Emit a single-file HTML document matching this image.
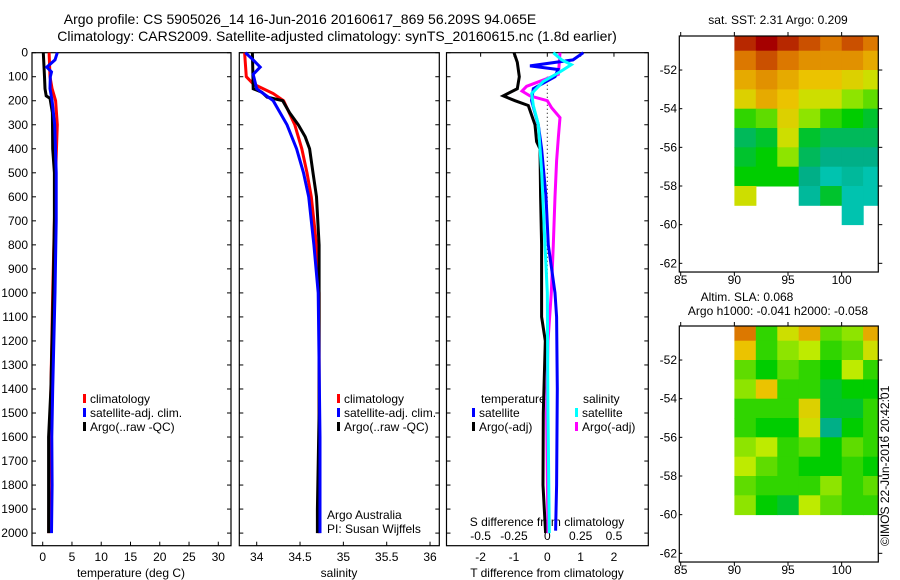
<!DOCTYPE html>
<html><head><meta charset="utf-8"><style>
html,body{margin:0;padding:0;background:#fff;}
svg{display:block;font-family:"Liberation Sans",sans-serif;}
</style></head><body>
<svg id="fig" width="900" height="580" viewBox="0 0 900 580" xmlns="http://www.w3.org/2000/svg">
<text x="300" y="24" font-size="14" text-anchor="middle">Argo profile: CS 5905026_14 16-Jun-2016 20160617_869 56.209S 94.065E</text>
<text x="337" y="41" font-size="14" text-anchor="middle">Climatology: CARS2009. Satellite-adjusted climatology: synTS_20160615.nc (1.8d earlier)</text>
<g id="p1"></g>
<g id="p2"></g>
<g id="p3"></g>
<g id="m1"></g>
<g id="m2"></g>
<text x="778" y="24" font-size="12" text-anchor="middle">sat. SST: 2.31 Argo: 0.209</text>
<text x="747" y="301" font-size="12" text-anchor="middle">Altim. SLA: 0.068</text>
<text x="778" y="315" font-size="12" text-anchor="middle">Argo h1000: -0.041 h2000: -0.058</text>
<text transform="translate(889,546) rotate(-90)" font-size="12">©IMOS 22-Jun-2016 20:42:01</text>
</svg>
<script>
// ---- data ----
var depthTicks=[0,100,200,300,400,500,600,700,800,900,1000,1100,1200,1300,1400,1500,1600,1700,1800,1900,2000];
var tempTicks=[0,5,10,15,20,25,30];
var salTicks=[34,34.5,35,35.5,36];
var tdiffTicks=[-2,-1,0,1,2];
var sdiffTicks=[-0.5,-0.25,0,0.25,0.5];
var sdiffTickLabels=["-0.5","-0.25","0","0.25","0.5"];

var tempClimDepth=[0,100,150,200,300,500,700,1000,1400,1600,1800,2000];
var tempClim=[1.1,1.25,1.6,2.2,2.5,2.2,2.0,1.7,1.4,1.25,1.1,1.05];
var tempSatDepth=[0,30,60,80,100,150,200,300,500,700,1000,1400,1600,1800,2000];
var tempSat=[2.5,2.1,0.7,1.5,1.3,1.25,1.6,2.05,2.3,2.3,2.1,1.7,1.55,1.6,1.5];
var tempArgoDepth=[0,100,150,180,190,250,400,500,700,1000,1400,1600,1800,2000];
var tempArgo=[0.1,0.3,0.4,0.6,1.25,1.65,1.7,2.0,2.0,1.8,1.4,1.0,1.0,1.0];

var salClimDepth=[0,100,130,170,200,300,400,500,600,800,1000,1600,2000];
var salClim=[33.86,33.88,33.96,34.19,34.31,34.44,34.52,34.58,34.63,34.69,34.72,34.72,34.72];
var salSatDepth=[0,30,60,90,150,200,300,400,500,600,800,1000,1600,2000];
var salSat=[33.87,33.96,34.04,33.96,34.0,34.19,34.35,34.46,34.54,34.6,34.66,34.71,34.73,34.73];
var salArgoDepth=[0,150,165,185,200,250,300,350,400,500,600,800,1000,1500,1900,2000];
var salArgo=[33.95,33.96,34.06,34.12,34.30,34.38,34.48,34.56,34.61,34.65,34.69,34.72,34.72,34.72,34.70,34.70];

var dTSatDepth=[0,30,55,70,100,150,200,300,400,600,800,1000,1100,1400,1800,1990];
var dTSat=[1.08,0.77,-0.52,0.32,0.23,-0.42,-0.47,-0.27,-0.17,-0.04,0.03,0.23,0.28,0.3,0.28,0.25];
var dTArgoDepth=[0,40,100,150,180,200,220,300,370,400,600,800,1100,1200,1500,1800,2000];
var dTArgo=[-1.0,-0.9,-0.84,-0.9,-1.32,-0.97,-0.57,-0.37,-0.32,-0.22,-0.2,-0.17,-0.17,-0.06,-0.12,-0.13,-0.05];
var dSSatDepth=[0,30,50,80,120,170,220,300,500,800,1000,1500,2000];
var dSSat=[0.045,0.108,0.18,0.095,-0.03,-0.117,-0.105,-0.067,-0.042,-0.017,0,0.005,0.015];
var dSArgoDepth=[0,90,140,160,180,200,230,270,350,450,600,800,1000,1200,1500,2000];
var dSArgo=[0.095,0.083,-0.155,-0.19,-0.13,0,0.033,0.095,0.083,0.07,0.058,0.045,0.03,0.005,-0.005,0.005];

var mapLatBands=[-50.24,-51,-52,-53,-54,-55,-56,-57,-58,-59,-60];
var mapLonEdges=[90,92,94,96,98,100,102,103.4];
var mapLonTicks=[85,90,95,100];
var mapLatTicks=[-52,-54,-56,-58,-60,-62];
var sstRow0=[0.95,1,0.95,0.9,0.85,0.9,0.85];
var sstRow1=[0.85,0.9,0.85,0.8,0.8,0.8,0.75];
var sstRow2=[0.75,0.8,0.75,0.7,0.7,0.65,0.6];
var sstRow3=[0.65,0.75,0.7,0.6,0.6,0.5,0.45];
var sstRow4=[0.4,0.45,0.65,0.5,0.4,0.35,0.3];
var sstRow5=[0.25,0.3,0.6,0.3,0.25,0.25,0.25];
var sstRow6=[0.3,0.35,0.5,0.25,0.2,0.2,0.2];
var sstRow7=[0.35,0.35,0.35,0.2,0.1,0.15,0.1];
var sstRow8=[0.6,null,null,0.15,0.3,0.1,0.1];
var sstRow9=[null,null,null,null,null,0.1,null];
var slaRow0=[0.85,0.4,0.6,0.75,0.45,0.5,0.75];
var slaRow1=[0.7,0.4,0.5,0.55,0.4,0.45,0.6];
var slaRow2=[0.45,0.35,0.45,0.4,0.35,0.55,0.4];
var slaRow3=[0.5,0.7,0.4,0.4,0.3,0.35,0.35];
var slaRow4=[0.4,0.4,0.4,0.65,0.3,0.3,0.4];
var slaRow5=[0.4,0.35,0.35,0.6,0.2,0.35,0.4];
var slaRow6=[0.5,0.55,0.4,0.45,0.35,0.45,0.4];
var slaRow7=[0.55,0.45,0.4,0.35,0.35,0.4,0.35];
var slaRow8=[0.45,0.4,0.4,0.4,0.5,0.4,0.45];
var slaRow9=[0.5,0.35,0.3,0.55,0.45,0.4,0.4];

var NS="http://www.w3.org/2000/svg";
function mk(parent,tag,attrs){var e=document.createElementNS(NS,tag);for(var k in attrs)e.setAttribute(k,attrs[k]);parent.appendChild(e);return e;}
function yD(d){return 52.7+d*0.2402;}
var TOP=52.7,BOT=545.7;

function panelFrame(g,x0,x1,name){
  var r=mk(g,'rect',{x:x0,y:TOP,width:x1-x0,height:BOT-TOP,fill:'none',stroke:'#000','stroke-width':1.2});
  
  
  depthTicks.forEach(function(d){
    mk(g,'line',{x1:x0,x2:x0+4,y1:yD(d),y2:yD(d),stroke:'#000'});
    mk(g,'line',{x1:x1,x2:x1-4,y1:yD(d),y2:yD(d),stroke:'#000'});
  });
}
function line(g,xs,ds,fx,color,name,w){
  var pts=xs.map(function(v,i){return fx(v).toFixed(1)+','+yD(ds[i]).toFixed(1);}).join(' ');
  var p=mk(g,'polyline',{points:pts,fill:'none',stroke:color,'stroke-width':w||3,'stroke-linejoin':'miter'});
  
  
}
function txt(g,x,y,s,size,anchor,name){
  var t=mk(g,'text',{x:x,y:y,'font-size':size,'text-anchor':anchor||'start'});t.textContent=s;
  
  
  return t;
}
function legend(g,x,y,color,label,name){
  var r=mk(g,'rect',{x:x,y:y-9,width:3,height:9,fill:color});
  
  
  txt(g,x+7,y,label,12,'start',name);
}

// Panel 1
var p1=document.getElementById('p1');
function xT(t){return 42.7+t*5.853;}
panelFrame(p1,32,231,'temperature-panel');
depthTicks.forEach(function(d){txt(p1,28,yD(d)+4,String(d),12,'end','depth-tick-label');});
tempTicks.forEach(function(t){mk(p1,'line',{x1:xT(t),x2:xT(t),y1:BOT,y2:BOT-4,stroke:'#000'});txt(p1,xT(t),561,String(t),12,'middle','temp-tick-label');});
txt(p1,131,577,'temperature (deg C)',12,'middle','temperature-axis-title');
line(p1,tempClim,tempClimDepth,xT,'#ff0000','temp-climatology-line');
line(p1,tempArgo,tempArgoDepth,xT,'#000','temp-argo-line');
line(p1,tempSat,tempSatDepth,xT,'#0000ff','temp-satellite-line');
legend(p1,83,403,'#ff0000','climatology','legend-climatology');
legend(p1,83,417,'#0000ff','satellite-adj. clim.','legend-satellite');
legend(p1,83,431,'#000','Argo(..raw -QC)','legend-argo');

// Panel 2
var p2=document.getElementById('p2');
function xS(s){return 256.7+(s-34)*86.67;}
panelFrame(p2,239.3,439.3,'salinity-panel');
salTicks.forEach(function(s){mk(p2,'line',{x1:xS(s),x2:xS(s),y1:BOT,y2:BOT-4,stroke:'#000'});txt(p2,xS(s),561,String(s),12,'middle','salinity-tick-label');});
txt(p2,339,577,'salinity',12,'middle','salinity-axis-title');
line(p2,salClim,salClimDepth,xS,'#ff0000','sal-climatology-line');
line(p2,salArgo,salArgoDepth,xS,'#000','sal-argo-line');
line(p2,salSat,salSatDepth,xS,'#0000ff','sal-satellite-line');
legend(p2,337,403,'#ff0000','climatology','legend-climatology-2');
legend(p2,337,417,'#0000ff','satellite-adj. clim.','legend-satellite-2');
legend(p2,337,431,'#000','Argo(..raw -QC)','legend-argo-2');
txt(p2,327,519,'Argo Australia',12,'start','argo-australia-label');
txt(p2,327,533,'PI: Susan Wijffels',12,'start','pi-label');

// Panel 3
var p3=document.getElementById('p3');
function xdT(t){return 547.3+t*33.33;}
function xdS(s){return 547.3+s*133.3;}
panelFrame(p3,446.5,648.3,'difference-panel');
tdiffTicks.forEach(function(t){mk(p3,'line',{x1:xdT(t),x2:xdT(t),y1:TOP,y2:TOP+4,stroke:'#000'});txt(p3,xdT(t),561,String(t),12,'middle','tdiff-tick-label');});
sdiffTicks.forEach(function(s,i){txt(p3,xdS(s),540,sdiffTickLabels[i],12,'middle','sdiff-tick-label');});
txt(p3,547,526,'S difference from climatology',12,'middle','sdiff-axis-title');
txt(p3,547,577,'T difference from climatology',12,'middle','tdiff-axis-title');
var z=mk(p3,'line',{x1:xdT(0),x2:xdT(0),y1:yD(100),y2:yD(2000),stroke:'#000','stroke-dasharray':'1,3'});


line(p3,dTArgo,dTArgoDepth,xdT,'#000','tdiff-argo-line');
line(p3,dSArgo,dSArgoDepth,xdS,'#ff00ff','sdiff-argo-line');
line(p3,dTSat,dTSatDepth,xdT,'#0000ff','tdiff-satellite-line');
line(p3,dSSat,dSSatDepth,xdS,'#00ffff','sdiff-satellite-line');
txt(p3,481,403,'temperature',12,'start','legend-temperature-heading');
legend(p3,472,417,'#0000ff','satellite','legend-t-satellite');
legend(p3,472,431,'#000','Argo(-adj)','legend-t-argo');
txt(p3,583,403,'salinity',12,'start','legend-salinity-heading');
legend(p3,575,417,'#00ffff','satellite','legend-s-satellite');
legend(p3,575,431,'#ff00ff','Argo(-adj)','legend-s-argo');

// Maps
var stops=[[0,[0,215,215]],[0.2,[0,175,135]],[0.35,[0,205,0]],[0.55,[190,235,0]],[0.7,[235,195,0]],[0.85,[220,120,0]],[1,[165,0,0]]];
function cmap(v){
  for(var i=1;i<stops.length;i++){if(v<=stops[i][0]){var a=stops[i-1],b=stops[i],f=(v-a[0])/(b[0]-a[0]);
    return 'rgb('+a[1].map(function(c,k){return Math.round(c+(b[1][k]-c)*f);}).join(',')+')';}}
  return 'rgb(165,0,0)';
}
function drawMap(gid,top,rows,name,xlabY){
  var g=document.getElementById(gid);
  var L=679.3,R=878.3,B=top+(-62-(-50.24))*-1*19.33+(-50.24+50.24);
  function xL(lon){return 680.7+(lon-85)*10.73;}
  function yL(lat){return top+(-50.24-lat)*19.33;}
  B=yL(-62.45);
  rows.forEach(function(row,ri){
    row.forEach(function(v,ci){
      if(v===null)return;
      var x0=xL(mapLonEdges[ci]),x1=xL(mapLonEdges[ci+1]);
      var y0=yL(mapLatBands[ri]),y1=yL(mapLatBands[ri+1]);
      var c=mk(g,'rect',{x:x0.toFixed(1),y:y0.toFixed(1),width:(x1-x0+0.5).toFixed(1),height:(y1-y0+0.5).toFixed(1),fill:cmap(v)});
      
      
    });
  });
  var f=mk(g,'rect',{x:L,y:top,width:R-L,height:B-top,fill:'none',stroke:'#000','stroke-width':1.2});
  
  
  mapLonTicks.forEach(function(lon){
    mk(g,'line',{x1:xL(lon),x2:xL(lon),y1:top,y2:top-4,stroke:'#000'});
    mk(g,'line',{x1:xL(lon),x2:xL(lon),y1:B,y2:B+4,stroke:'#000'});
    txt(g,xL(lon),xlabY,String(lon),12,'middle',name+'-lon-label');
  });
  mapLatTicks.forEach(function(lat){
    mk(g,'line',{x1:R,x2:R+4,y1:yL(lat),y2:yL(lat),stroke:'#000'});
    mk(g,'line',{x1:L,x2:L+3,y1:yL(lat),y2:yL(lat),stroke:'#000'});
    txt(g,677,yL(lat)+4,String(lat),12,'end',name+'-lat-label');
  });
}
drawMap('m1',36,[sstRow0,sstRow1,sstRow2,sstRow3,sstRow4,sstRow5,sstRow6,sstRow7,sstRow8,sstRow9],'sst-map',284);
drawMap('m2',326,[slaRow0,slaRow1,slaRow2,slaRow3,slaRow4,slaRow5,slaRow6,slaRow7,slaRow8,slaRow9],'sla-map',574);
</script>
</body></html>
